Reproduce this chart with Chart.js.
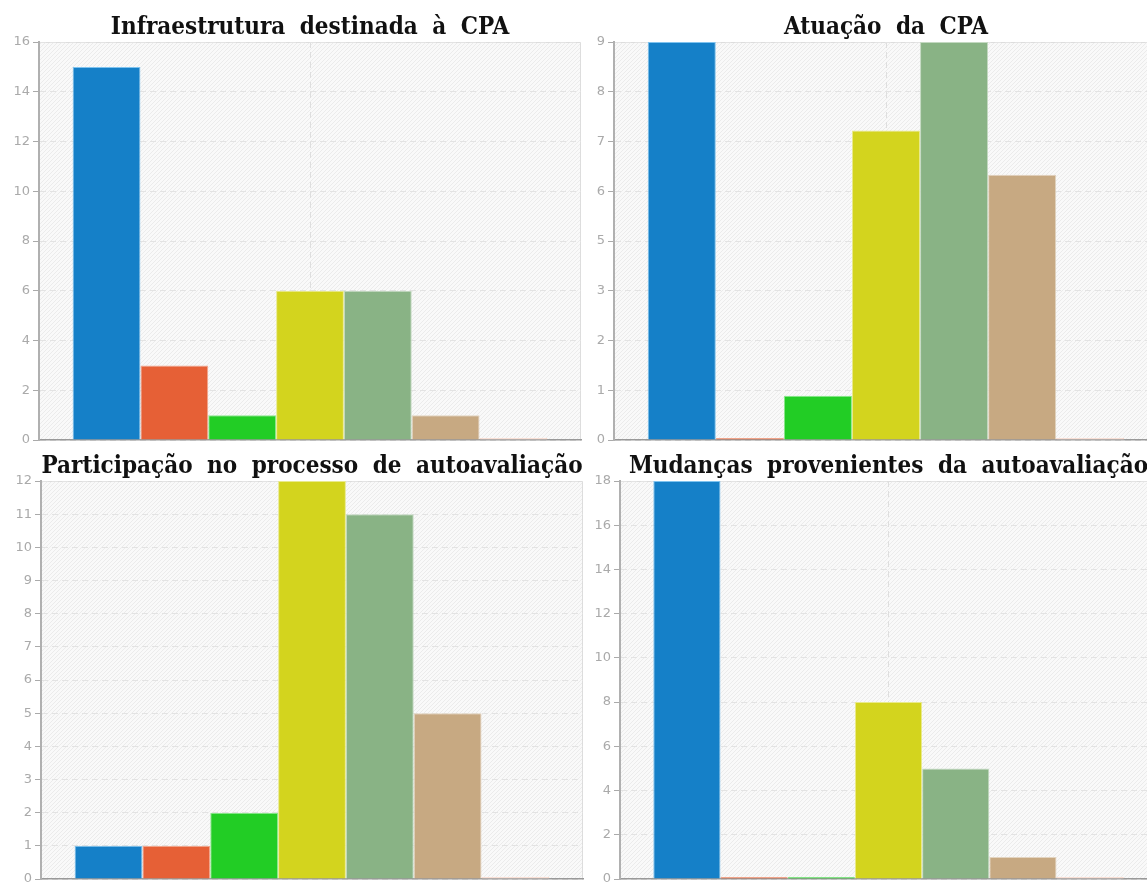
<!DOCTYPE html>
<html><head><meta charset="utf-8">
<script src="https://cdn.jsdelivr.net/npm/chart.js@4/dist/chart.umd.min.js"></script>
<style>
html,body{margin:0;padding:0;width:1147px;height:882px;overflow:hidden;background:#fff;position:relative}
canvas{position:absolute}
</style></head><body>
<canvas id="c1"></canvas><canvas id="c2"></canvas><canvas id="c3"></canvas><canvas id="c4"></canvas>
<script>
// ---- data ----
const seriesNames = ['Série 1','Série 2','Série 3','Série 4','Série 5','Série 6','Série 7'];
const seriesColors = ['#1580c8','#e66036','#22cd25','#d3d41e','#89b385','#c7a982','#fbe3d9'];
const seriesBorders = ['#7fc3ef','#f3a88f','#8ae88c','#e9ea8c','#c3d9c1','#e3d4c0','#f8d6c8'];
const titles = ['Infraestrutura destinada à CPA','Atuação da CPA','Participação no processo de autoavaliação','Mudanças provenientes da autoavaliação'];
const valuesInfra = [15,3,1,6,6,1,0];
const valuesAtuacao = [9,0,1,7,9,6,0];
const valuesParticipacao = [1,1,2,12,11,5,0];
const valuesMudancas = [18,0,0,8,5,1,0];
const ticksInfra = ['0','2','4','6','8','10','12','14','16'];
const ticksAtuacao = ['0','1','2','3','5','6','7','8','9'];
const ticksParticipacao = ['0','1','2','3','4','5','6','7','8','9','10','11','12'];
const ticksMudancas = ['0','2','4','6','8','10','12','14','16','18'];
const yMaxes = [16,9,12,18];

// ---- layout ----
const panels = [
  {id:'c1', left:0,   top:0,   width:620, height:452, axisW:39, padTop:13.2, padBottom:12, values:valuesInfra, ticks:ticksInfra},
  {id:'c2', left:577, top:0,   width:618, height:452, axisW:37, padTop:13.2, padBottom:12, values:valuesAtuacao, ticks:ticksAtuacao},
  {id:'c3', left:0,   top:441, width:624, height:441, axisW:41, padTop:11.2, padBottom:3, values:valuesParticipacao, ticks:ticksParticipacao},
  {id:'c4', left:577, top:441, width:623, height:441, axisW:43, padTop:11.2, padBottom:3, values:valuesMudancas, ticks:ticksMudancas}
];

// hatch pattern
const pc = document.createElement('canvas'); pc.width = 4; pc.height = 4;
const pctx = pc.getContext('2d');
const img = pctx.createImageData(4,4);
for (let y=0;y<4;y++) for (let x=0;x<4;x++){
  const k=(y*4+x)*4; const dark = ((x+y)%4===3);
  const v = dark ? 235 : 249;
  img.data[k]=v; img.data[k+1]=v; img.data[k+2]=v; img.data[k+3]=255;
}
pctx.putImageData(img,0,0);

const bgPlugin = {
  id:'bgHatch',
  beforeDraw(chart){
    const {ctx, chartArea:a} = chart;
    ctx.save();
    ctx.fillStyle = ctx.createPattern(pc,'repeat');
    ctx.fillRect(a.left, a.top, a.right-a.left, a.bottom-a.top);
    ctx.strokeStyle = '#dddddd'; ctx.lineWidth = 1;
    ctx.beginPath();
    ctx.moveTo(a.left, a.top+0.5); ctx.lineTo(a.right-0.5, a.top+0.5); ctx.lineTo(a.right-0.5, a.bottom);
    ctx.stroke();
    ctx.restore();
    ctx.wordSpacing = '7px';
  }
};

panels.forEach((p, pi) => {
  const cv = document.getElementById(p.id);
  cv.width = p.width; cv.height = p.height;
  cv.style.left = p.left+'px'; cv.style.top = p.top+'px';
  cv.style.width = p.width+'px'; cv.style.height = p.height+'px';
  const M = yMaxes[pi];
  const labels = p.ticks;
  new Chart(cv, {
    type:'bar',
    data:{
      labels:[''],
      datasets: seriesNames.map((n,i)=>({
        label:n, data:[p.values[i]],
        backgroundColor:seriesColors[i], borderColor:seriesBorders[i],
        borderWidth:1, minBarLength:2
      }))
    },
    options:{
      responsive:false, animation:false, devicePixelRatio:1,
      layout:{padding:{left:0, right:0, top:0, bottom:p.padBottom}},
      datasets:{bar:{categoryPercentage:0.876, barPercentage:1}},
      plugins:{
        legend:{display:false}, tooltip:{enabled:false},
        title:{display:true, text:titles[pi], color:'#111',
          font:{family:'DejaVu Serif Condensed', weight:'bold', size:24, lineHeight:1.2},
          padding:{top:p.padTop, bottom:0}}
      },
      scales:{
        x:{
          grid:{display:true, offset:false, color:'#dedede', drawTicks:false, lineWidth:1},
          border:{display:true, color:'#999', width:1.5, dash:[6,4]},
          ticks:{display:false}
        },
        y:{
          min:0, max:M,
          afterBuildTicks: s => { s.ticks = labels.map((l,i)=>({value: i*M/(labels.length-1)})); },
          afterFit: s => { s.width = p.axisW; s.paddingTop = 0; s.paddingBottom = 0; },
          ticks:{callback:(v,i)=>labels[i], font:{family:'DejaVu Sans', size:13}, color:'#aaa', padding:3},
          grid:{color:'#e3e3e3', tickColor:'#aaa', tickLength:6, tickBorderDash:[], lineWidth:1},
          border:{display:true, color:'#b0b0b0', width:2, dash:[6,4]}
        },
        yRightSpace:{
          position:'right', display:true,
          grid:{display:false, drawTicks:false}, border:{display:false}, ticks:{display:false},
          afterFit: s => { s.width = p.axisW; s.paddingTop = 0; s.paddingBottom = 0; }
        }
      }
    },
    plugins:[bgPlugin]
  });
});
</script>
</body></html>
